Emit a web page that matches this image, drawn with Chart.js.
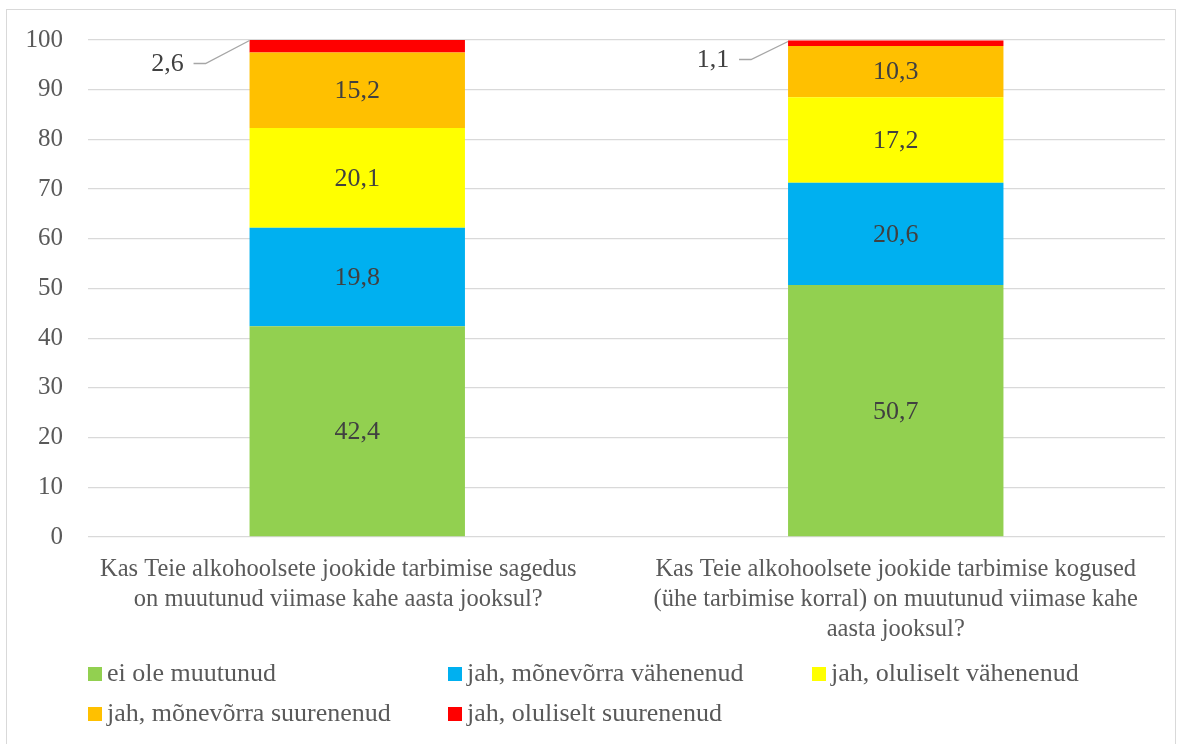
<!DOCTYPE html>
<html>
<head>
<meta charset="utf-8">
<script src="https://cdn.jsdelivr.net/npm/chart.js@4"></script>
<style>
  html, body { margin: 0; padding: 0; background: #fff; }
  #wrap { position: relative; width: 1182px; height: 744px; overflow: hidden; }
  #frame { position: absolute; left: 6px; top: 9px; width: 1170px; height: 760px; border: 1px solid #d9d9d9; box-sizing: border-box; }
  canvas { position: absolute; left: 0; top: 0; }
  #legend { position: absolute; left: 0; top: 0; font-family: 'Liberation Serif', 'Times New Roman', serif; font-size: 26px; color: #595959; }
  .item { position: absolute; white-space: nowrap; line-height: 30px; }
  .box { display: inline-block; width: 14px; height: 14px; margin-right: 5px; vertical-align: 0px; }
</style>
</head>
<body>
<div id="wrap">
  <div id="frame"></div>
  <canvas id="c" width="1182" height="744"></canvas>
  <div id="legend"></div>
</div>
<script>
// ── Dados ──
const categories = [
  ['Kas Teie alkohoolsete jookide tarbimise sagedus', 'on muutunud viimase kahe aasta jooksul?'],
  ['Kas Teie alkohoolsete jookide tarbimise kogused', '(ühe tarbimise korral) on muutunud viimase kahe', 'aasta jooksul?'],
];
const seriesNames = [
  'ei ole muutunud',
  'jah, mõnevõrra vähenenud',
  'jah, oluliselt vähenenud',
  'jah, mõnevõrra suurenenud',
  'jah, oluliselt suurenenud',
];
const eiOleMuutunud = [42.4, 50.7];
const monevorraVahenenud = [19.8, 20.6];
const oluliseltVahenenud = [20.1, 17.2];
const monevorraSuurenenud = [15.2, 10.3];
const oluliseltSuurenenud = [2.6, 1.1];
const yTicks = [0, 10, 20, 30, 40, 50, 60, 70, 80, 90, 100];

const seriesValues = [eiOleMuutunud, monevorraVahenenud, oluliseltVahenenud, monevorraSuurenenud, oluliseltSuurenenud];
const colors = ['#92D050', '#00B0F0', '#FFFF00', '#FFC000', '#FF0000'];

const serif = "'Liberation Serif', 'Times New Roman', serif";

// ── Rótulos de valor (o último segmento fica fora, com linha guia) ──
const valueLabels = {
  id: 'valueLabels',
  afterDatasetsDraw(chart) {
    const ctx = chart.ctx;
    ctx.save();
    ctx.font = '26px ' + serif;
    ctx.fillStyle = '#404040';
    ctx.textAlign = 'center';
    ctx.textBaseline = 'middle';
    const last = chart.data.datasets.length - 1;
    const outside = [{ dx: 82, dy: 25 }, { dx: 75, dy: 20 }];
    chart.data.datasets.forEach((ds, di) => {
      chart.getDatasetMeta(di).data.forEach((bar, i) => {
        const v = ds.data[i];
        const txt = String(v).replace('.', ',');
        if (di === last) {
          const left = bar.x - bar.width / 2;
          const top = Math.min(bar.y, bar.base);
          const o = outside[i];
          const lx = left - o.dx, ly = top + o.dy;
          ctx.fillText(txt, lx, ly);
          ctx.strokeStyle = '#a6a6a6';
          ctx.lineWidth = 1.3;
          ctx.beginPath();
          ctx.moveTo(lx + 26, ly - 1);
          ctx.lineTo(lx + 38, ly - 1);
          ctx.lineTo(left, top + 1);
          ctx.stroke();
        } else {
          ctx.fillText(txt, bar.x, (bar.y + bar.base) / 2 + 1);
        }
      });
    });
    ctx.restore();
  }
};

// Excel desloca o primeiro rótulo do eixo X um pouco para a esquerda
const shiftFirstLabel = {
  id: 'shiftFirstLabel',
  beforeDraw(chart) {
    const items = chart.scales.x.getLabelItems(chart.chartArea);
    if (items[0] && !items[0]._shifted) {
      items[0].options.translation[0] -= 19;
      items[0]._shifted = true;
    }
  }
};

const chart = new Chart(document.getElementById('c'), {
  type: 'bar',
  data: {
    labels: categories,
    datasets: seriesNames.map((name, i) => ({
      label: name,
      data: seriesValues[i],
      backgroundColor: colors[i],
      borderWidth: 0,
      barPercentage: 0.4,
      categoryPercentage: 1,
    })),
  },
  options: {
    responsive: false,
    animation: false,
    layout: { padding: { top: 39, right: 17, bottom: 97, left: 0 } },
    plugins: { legend: { display: false }, tooltip: { enabled: false } },
    scales: {
      x: {
        stacked: true,
        grid: { display: false, drawTicks: false },
        border: { display: false },
        ticks: { font: { family: serif, size: 24.5, lineHeight: '30px' }, color: '#595959', padding: 18, maxRotation: 0, autoSkip: false },
        afterFit(scale) { scale.height = 110; },
      },
      y: {
        stacked: true,
        min: 0,
        max: 100,
        afterBuildTicks(scale) { scale.ticks = yTicks.map(v => ({ value: v })); },
        grid: { color: '#d9d9d9', lineWidth: 1.3, drawTicks: false },
        border: { display: false },
        ticks: { font: { family: serif, size: 25 }, color: '#595959', padding: 25 },
        afterFit(scale) { scale.width = 88; },
      },
    },
  },
  plugins: [valueLabels, shiftFirstLabel],
});

// ── Legenda HTML em colunas ──
const legendPos = [[88, 658], [448, 658], [812, 658], [88, 698], [448, 698]];
const legend = document.getElementById('legend');
seriesNames.forEach((name, i) => {
  const el = document.createElement('div');
  el.className = 'item';
  el.style.left = legendPos[i][0] + 'px';
  el.style.top = legendPos[i][1] + 'px';
  el.innerHTML = `<span class="box" style="background:${colors[i]}"></span>${name}`;
  legend.appendChild(el);
});
</script>
</body>
</html>
